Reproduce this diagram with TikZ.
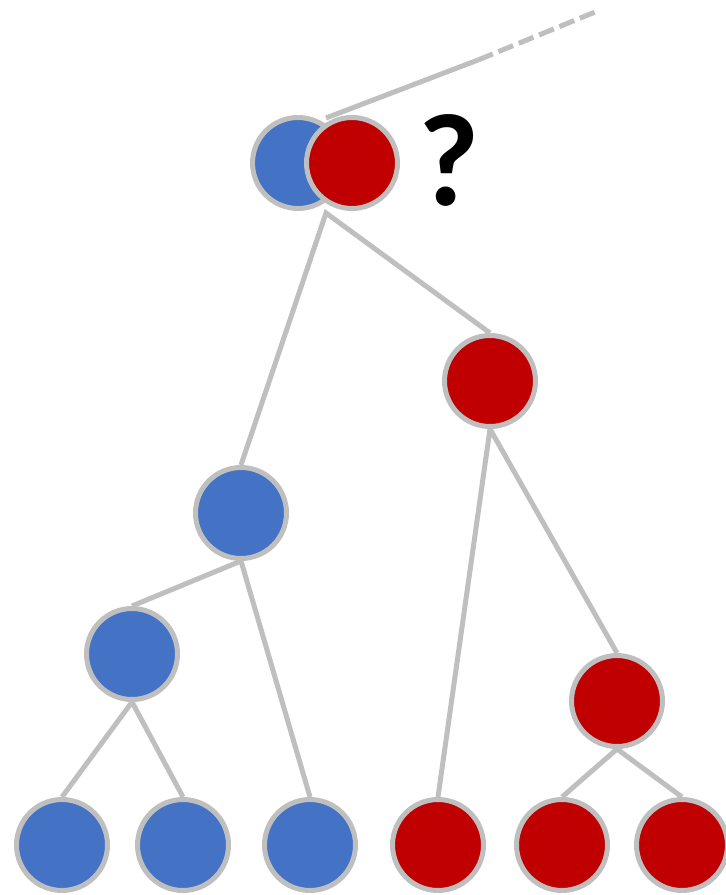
\documentclass[tikz,border=0pt]{standalone}
\usepackage{fontspec}
\setsansfont{Carlito}
\usepackage{xcolor}
\usetikzlibrary{backgrounds}

\definecolor{nodeblue}{HTML}{4472C4}
\definecolor{nodered}{HTML}{C00000}
\definecolor{edgegray}{HTML}{BFBFBF}

\begin{document}
\begin{tikzpicture}[
    x=0.02cm, y=-0.02cm,
    ball/.style={circle, draw=edgegray, line width=0.1cm, inner sep=0pt, minimum size=1.82cm},
    blueball/.style={ball, fill=nodeblue},
    redball/.style={ball, fill=nodered},
    link/.style={draw=edgegray, line width=0.1cm}
]
    \useasboundingbox (0,0) rectangle (726,895);

    % the undecided node: blue and red on top of each other
    \node[blueball] (pb) at (298,163) {};
    \node[redball] (pr) at (352,163) {};
    \coordinate (ptop) at (326,118);
    \coordinate (pbot) at (326,213);
    \node[font=\sffamily\bfseries\fontsize{75}{75}\selectfont] (q) at (449,160) {?};

    \node[redball] (r1) at (490,381) {};
    \node[blueball] (b1) at (241,513) {};
    \node[blueball] (b2) at (132,654) {};
    \node[redball] (r2) at (617,701) {};

    % leaves
    \node[blueball] (b3) at (62,845) {};
    \node[blueball] (b4) at (183,845) {};
    \node[blueball] (b5) at (310,845) {};
    \node[redball] (r3) at (438,845) {};
    \node[redball] (r4) at (562,845) {};
    \node[redball] (r5) at (682,845) {};

    \coordinate (up) at (478,60);
    \coordinate (far) at (600,10);

    \begin{pgfonlayer}{background}
        \draw[link] (ptop) -- (up);
        \draw[link, dash pattern=on 0.32cm off 0.12cm] (up) -- (far);
        \draw[link] (b1.north) -- (pbot) -- (r1.north);
        \draw[link] (b2.north) -- (b1.south) -- (b5.north);
        \draw[link] (r3.north) -- (r1.south) -- (r2.north);
        \draw[link] (b3.north) -- (b2.south) -- (b4.north);
        \draw[link] (r4.north) -- (r2.south) -- (r5.north);
    \end{pgfonlayer}
\end{tikzpicture}
\end{document}
